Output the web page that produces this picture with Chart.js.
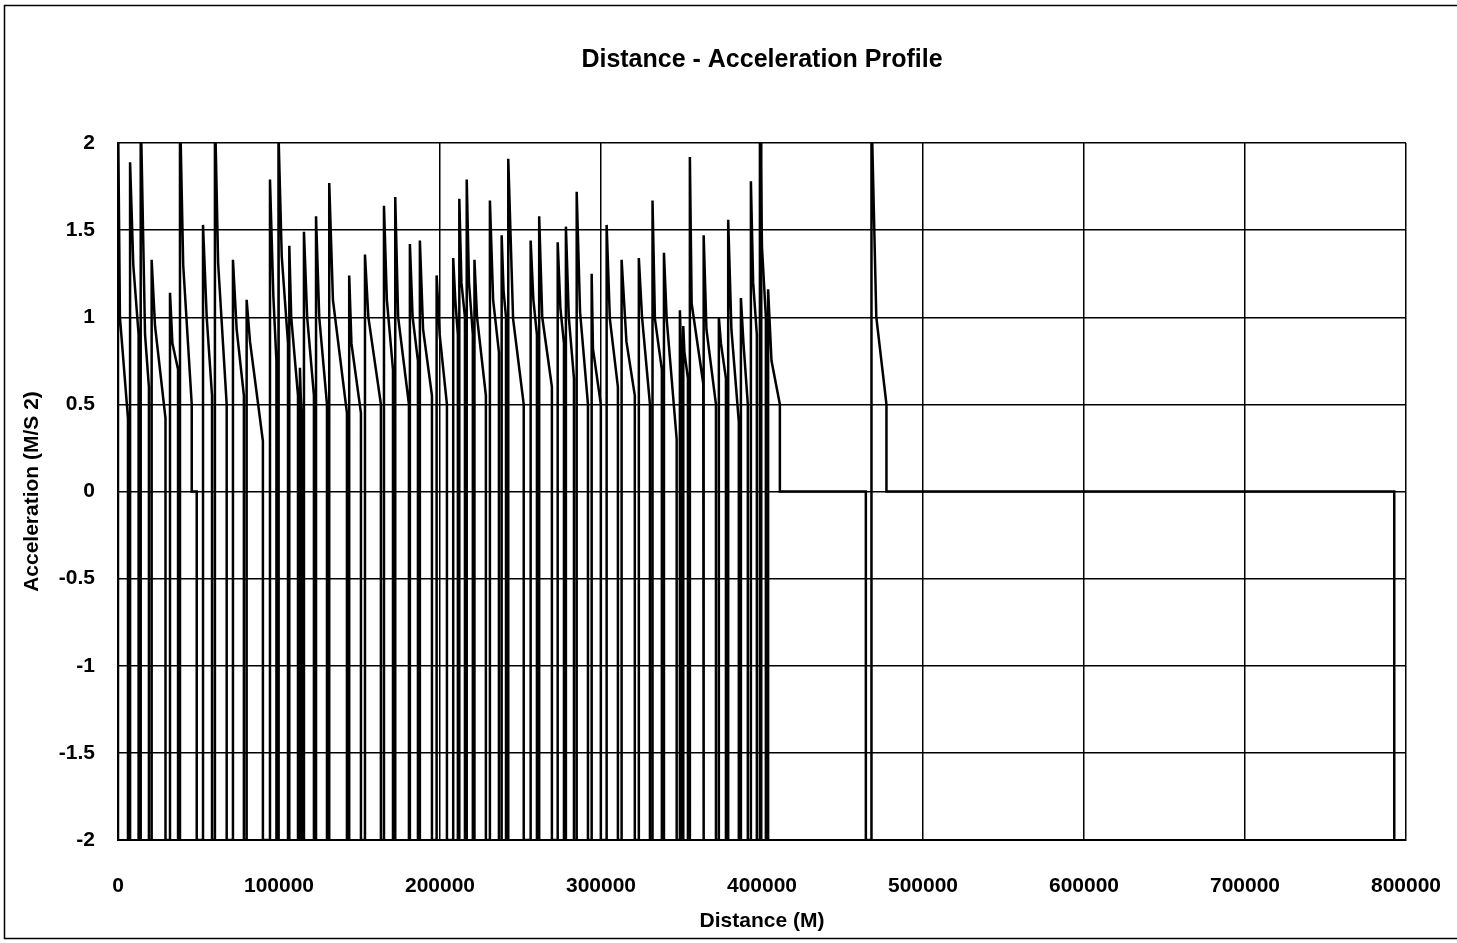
<!DOCTYPE html>
<html>
<head>
<meta charset="utf-8">
<script src="https://cdn.jsdelivr.net/npm/chart.js@4/dist/chart.umd.min.js"></script>
<style>
  html, body { margin: 0; padding: 0; background: #ffffff; }
  #wrap { position: relative; width: 1457px; height: 943px; }
</style>
</head>
<body>
<div id="wrap"><canvas id="c" width="1457" height="943"></canvas></div>
<script>
// ---- Data (distance in metres, acceleration in m/s^2) ----
const titleText = "Distance - Acceleration Profile";
const xTitle = "Distance (M)";
const yTitle = "Acceleration (M/S 2)";
const xTickLabels = ["0", "100000", "200000", "300000", "400000", "500000", "600000", "700000", "800000"];
const yTickLabels = ["-2", "-1.5", "-1", "-0.5", "0", "0.5", "1", "1.5", "2"];

// braking level (lines run down to the bottom of the plot)
const brakeValue = -2;

// start of each acceleration spike
const spikeStart = [0, 7500, 14100, 20900, 32300, 38500, 52800, 60200, 71400, 79900,
  94400, 99700, 106400, 113000, 115500, 123000, 131200, 143600, 153400, 165200,
  172200, 181300, 187500, 197900, 208200, 212000, 216600, 221400, 231000, 238300,
  242400, 256300, 261600, 273100, 278200, 284900, 294200, 303500, 312800, 323500,
  332000, 339100, 349000, 351100, 355200, 363900, 373200, 379000, 386900, 393100,
  398700, 403800, 468000];
// peak acceleration of each spike
const spikePeak = [2.2, 1.89, 2.2, 1.33, 1.14, 2.2, 1.53, 2.2, 1.33, 1.10,
  1.79, 2.05, 1.41, 0.71, 1.49, 1.58, 1.77, 1.24, 1.36, 1.64,
  1.69, 1.42, 1.44, 1.24, 1.34, 1.68, 1.79, 1.33, 1.67, 1.47,
  1.91, 1.44, 1.58, 1.43, 1.52, 1.72, 1.25, 1.53, 1.33, 1.34,
  1.67, 1.37, 1.04, 0.95, 1.92, 1.47, 1.00, 1.56, 1.11, 1.78,
  2.2, 1.16, 2.2];
// knee of the decay (distance, value)
const kneeDist = [1200, 9500, 16800, 23000, 33800, 40500, 55100, 62200, 73700, 82000,
  96500, 101700, 107600, 113500, 117500, 125000, 133500, 145000, 155500, 167000,
  174000, 183000, 189500, 199800, 209500, 213300, 218000, 223000, 233000, 239500,
  245400, 258000, 263500, 274800, 280000, 287000, 295000, 305500, 315800, 325500,
  333500, 340800, 349600, 351800, 356300, 365500, 374500, 381000, 388500, 394500,
  400000, 405900, 471000];
const kneeValue = [1.0, 1.3, 0.9, 0.95, 0.85, 1.3, 1.0, 1.31, 0.93, 0.86,
  1.12, 1.35, 1.0, 0.55, 1.0, 1.0, 1.1, 0.85, 1.0, 1.1,
  1.0, 1.0, 0.93, 0.9, 1.1, 1.2, 1.2, 1.0, 1.1, 1.15,
  0.99, 1.1, 1.0, 1.05, 1.0, 1.03, 0.82, 0.99, 0.86, 1.0,
  0.99, 0.99, 0.85, 0.8, 1.08, 0.93, 0.85, 0.93, 0.85, 1.2,
  1.4, 0.75, 1.0];
// end of acceleration (distance, value)
const spikeEnd = [6200, 12800, 19200, 29500, 37300, 45800, 58400, 67500, 78200, 90000,
  98400, 105600, 111800, 114300, 121700, 129800, 142200, 150900, 163300, 170800,
  180700, 186300, 195000, 204300, 211100, 215500, 220400, 228500, 236600, 241000,
  252000, 260200, 269500, 277000, 283200, 291900, 299900, 310500, 321000, 330400,
  337800, 347000, 350200, 354000, 363500, 371400, 377600, 385600, 391200, 396800,
  402400, 411100, 477300];
const endValue = [0.42, 0.9, 0.6, 0.42, 0.7, 0.5, 0.55, 0.5, 0.55, 0.29,
  0.75, 0.85, 0.55, 0.4, 0.55, 0.5, 0.45, 0.45, 0.5, 0.7,
  0.5, 0.75, 0.55, 0.5, 0.9, 1.0, 0.9, 0.55, 0.8, 1.0,
  0.5, 0.9, 0.6, 0.85, 0.65, 0.5, 0.5, 0.6, 0.55, 0.5,
  0.7, 0.3, 0.7, 0.65, 0.62, 0.5, 0.65, 0.4, 0.5, 0.9,
  1.0, 0.5, 0.5];
// coasting phases at zero acceleration (start, end)
const coastStart = [45800, 411100, 477300];
const coastEnd = [48900, 464500, 792700];

// ---- Build the polyline from the arrays ----
const points = [];
for (let i = 0; i < spikeStart.length; i++) {
  points.push({ x: spikeStart[i], y: brakeValue });
  points.push({ x: spikeStart[i], y: spikePeak[i] });
  points.push({ x: kneeDist[i], y: kneeValue[i] });
  points.push({ x: spikeEnd[i], y: endValue[i] });
  const k = coastStart.indexOf(spikeEnd[i]);
  if (k >= 0) {
    points.push({ x: coastStart[k], y: 0 });
    points.push({ x: coastEnd[k], y: 0 });
    points.push({ x: coastEnd[k], y: brakeValue });
  } else {
    points.push({ x: spikeEnd[i], y: brakeValue });
  }
}

const FONT = "'Liberation Sans', Arial, sans-serif";

const framePlugin = {
  id: 'frame',
  afterDraw(chart) {
    const ctx = chart.ctx;
    const a = chart.chartArea;
    ctx.save();
    ctx.strokeStyle = '#000';
    ctx.lineWidth = 1.5;
    ctx.strokeRect(4.5, 5.5, 1480, 933);
    // chart title, centred over the plot area
    ctx.fillStyle = '#000';
    ctx.font = "bold 25px " + FONT;
    ctx.textAlign = 'center';
    ctx.textBaseline = 'middle';
    ctx.fillText(titleText, (a.left + a.right) / 2, 60);
    ctx.restore();
  }
};

new Chart(document.getElementById('c'), {
  type: 'line',
  data: {
    datasets: [{
      data: points,
      borderColor: '#000',
      borderWidth: 2.5,
      pointRadius: 0,
      tension: 0,
      fill: false
    }]
  },
  options: {
    responsive: false,
    animation: false,
    events: [],
    layout: { padding: { left: 0, right: 51, top: 143, bottom: 0 } },
    plugins: {
      legend: { display: false },
      tooltip: { enabled: false },
      title: { display: false }
    },
    scales: {
      x: {
        type: 'linear',
        min: 0,
        max: 800000,
        afterFit(s) { s.height = 103; },
        grid: { color: '#000', lineWidth: 1.5, drawTicks: true, tickLength: 34, tickColor: 'rgba(0,0,0,0)' },
        border: { color: '#000', width: 2 },
        ticks: {
          stepSize: 100000,
          autoSkip: false,
          maxRotation: 0,
          padding: 0,
          color: '#000',
          font: { family: FONT, size: 21, weight: 'bold' },
          callback: (v, i) => xTickLabels[i]
        },
        title: {
          display: true,
          text: xTitle,
          color: '#000',
          font: { family: FONT, size: 21, weight: 'bold' },
          padding: { top: 0, bottom: 9 }
        }
      },
      y: {
        min: -2,
        max: 2,
        afterFit(s) { s.width = 118; },
        grid: { color: '#000', lineWidth: 1.5, drawTicks: false },
        border: { color: '#000', width: 2 },
        ticks: {
          stepSize: 0.5,
          autoSkip: false,
          padding: 23,
          color: '#000',
          font: { family: FONT, size: 21, weight: 'bold' },
          callback: (v, i) => yTickLabels[i]
        },
        title: {
          display: true,
          text: yTitle,
          color: '#000',
          font: { family: FONT, size: 21, weight: 'bold' },
          padding: { top: 20, bottom: 0 }
        }
      }
    }
  },
  plugins: [framePlugin]
});
</script>
</body>
</html>
